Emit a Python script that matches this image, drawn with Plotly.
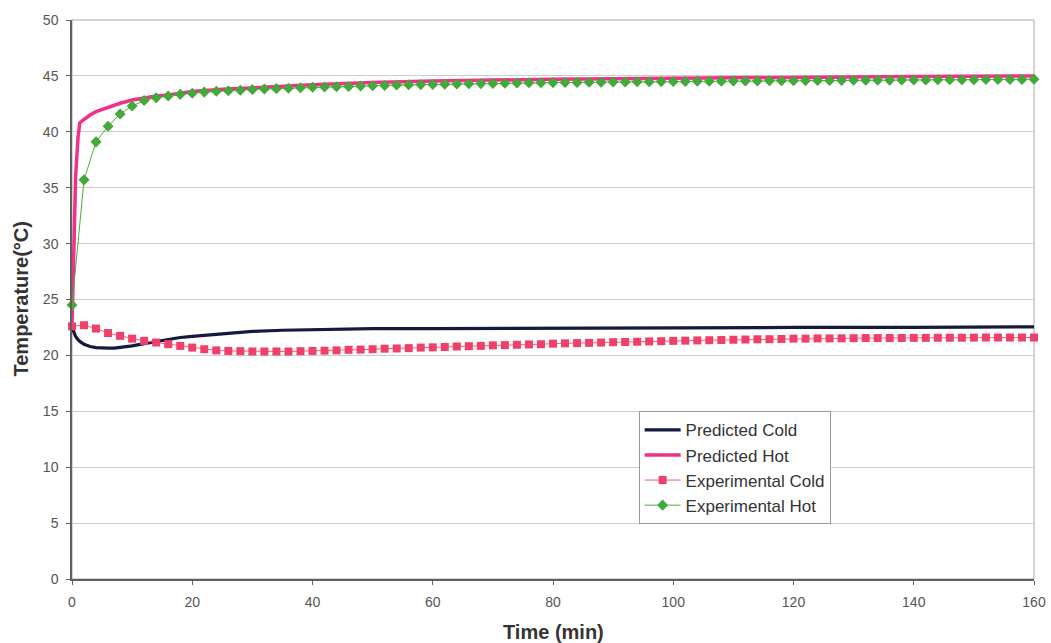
import plotly.graph_objects as go

# Model predictions (minutes, °C)
pred_time = [0, 0.3, 0.6, 1, 1.3, 2, 3, 4, 5, 6, 7, 8, 10, 12, 14, 16, 18, 20, 25, 30, 35, 40, 50, 60,
             80, 100, 120, 140, 160]
pred_cold = [22.5, 22.0, 21.7, 21.4, 21.25, 21.0, 20.8, 20.7, 20.65, 20.65, 20.65, 20.7, 20.85, 21.05,
             21.25, 21.45, 21.6, 21.7, 21.95, 22.15, 22.25, 22.3, 22.4, 22.4, 22.45, 22.45, 22.5, 22.5, 22.55]
pred_hot = [22.6, 30.0, 36.0, 39.5, 40.8, 41.1, 41.5, 41.8, 42.0, 42.2, 42.4, 42.55, 42.85, 43.05,
            43.2, 43.3, 43.45, 43.6, 43.8, 43.95, 44.1, 44.2, 44.4, 44.55, 44.7, 44.8, 44.9, 44.95, 45.0]

# Measurements, sampled every 2 minutes
exp_time = list(range(0, 161, 2))
exp_cold = [22.6, 22.7, 22.4, 22.0, 21.75, 21.5, 21.3, 21.15, 21.0, 20.85,
            20.7, 20.55, 20.45, 20.4, 20.38, 20.35, 20.35, 20.35, 20.35, 20.38,
            20.4, 20.42, 20.45, 20.5, 20.52, 20.55, 20.6, 20.62, 20.65, 20.7,
            20.72, 20.75, 20.8, 20.82, 20.85, 20.9, 20.92, 20.95, 20.98, 21.0,
            21.05, 21.08, 21.1, 21.12, 21.15, 21.18, 21.2, 21.22, 21.25, 21.27,
            21.3, 21.32, 21.34, 21.36, 21.38, 21.4, 21.42, 21.44, 21.45, 21.47,
            21.5, 21.5, 21.52, 21.52, 21.53, 21.54, 21.55, 21.55, 21.55, 21.56,
            21.57, 21.57, 21.58, 21.58, 21.58, 21.59, 21.6, 21.6, 21.6, 21.6, 21.6]
exp_hot = [24.5, 35.7, 39.1, 40.5, 41.6, 42.3, 42.8, 43.05, 43.2, 43.35,
           43.45, 43.55, 43.62, 43.68, 43.72, 43.78, 43.82, 43.86, 43.9, 43.94,
           43.98, 44.0, 44.03, 44.06, 44.09, 44.12, 44.15, 44.18, 44.2, 44.22,
           44.24, 44.26, 44.28, 44.3, 44.31, 44.33, 44.35, 44.36, 44.38, 44.39,
           44.4, 44.41, 44.42, 44.43, 44.44, 44.45, 44.46, 44.47, 44.48, 44.49,
           44.5, 44.51, 44.52, 44.52, 44.53, 44.54, 44.55, 44.55, 44.56, 44.57,
           44.57, 44.58, 44.59, 44.59, 44.6, 44.61, 44.61, 44.62, 44.62, 44.63,
           44.64, 44.64, 44.65, 44.65, 44.66, 44.66, 44.67, 44.67, 44.68, 44.68, 44.7]

x_ticks = [0, 20, 40, 60, 80, 100, 120, 140, 160]
y_ticks = [0, 5, 10, 15, 20, 25, 30, 35, 40, 45, 50]

FONT = "Liberation Sans, Arial, sans-serif"
TITLE_FONT = dict(family=FONT, size=20, color="#333333")

fig = go.Figure()
fig.add_trace(go.Scatter(x=pred_time, y=pred_cold, mode="lines", name="Predicted Cold",
                         line=dict(color="#15183f", width=3.2), legendgroup="a"))
fig.add_trace(go.Scatter(x=pred_time, y=pred_hot, mode="lines", name="Predicted Hot",
                         line=dict(color="#f0308a", width=3.5), legendgroup="b"))
fig.add_trace(go.Scatter(x=exp_time, y=exp_cold, mode="lines+markers", name="Experimental Cold",
                         line=dict(color="#f2607a", width=1),
                         marker=dict(symbol="square", size=8, color="#f0406a"),
                         legendgroup="c", cliponaxis=False))
fig.add_trace(go.Scatter(x=exp_time, y=exp_hot, mode="lines+markers", name="Experimental Hot",
                         line=dict(color="#4caf3a", width=1),
                         marker=dict(symbol="diamond", size=8.5, color="#44a83a"),
                         legendgroup="d", cliponaxis=False))

# plot-area frame on the top and right sides
fig.add_shape(type="rect", xref="paper", yref="paper", x0=0, y0=0, x1=1, y1=1,
              line=dict(color="#a8a8a8", width=1), layer="below")

# axis titles
fig.add_annotation(text="<b>Time (min)</b>", xref="paper", yref="paper", x=0.5, y=0,
                   yshift=-53, xanchor="center", yanchor="middle", showarrow=False, font=TITLE_FONT)
fig.add_annotation(text="<b>Temperature(°C)</b>", xref="paper", yref="paper", x=0, y=0.5,
                   xshift=-52, xanchor="center", yanchor="middle", textangle=-90,
                   showarrow=False, font=TITLE_FONT)

fig.update_layout(
    width=1051, height=643,
    margin=dict(l=72, r=17, t=20, b=64),
    paper_bgcolor="white", plot_bgcolor="white",
    font=dict(family=FONT, color="#555555", size=14),
    showlegend=True,
    legend=dict(x=0.589, y=0.30, xanchor="left", yanchor="top",
                bordercolor="#9a9a9a", borderwidth=1, bgcolor="white",
                font=dict(family=FONT, size=17, color="#333333"),
                tracegroupgap=0, itemwidth=36),
    xaxis=dict(range=[0, 160], tickvals=x_ticks, ticktext=[str(v) for v in x_ticks],
               automargin=False,
               showgrid=False, zeroline=False, showline=True, linecolor="#606060", linewidth=1.5,
               ticks="outside", ticklen=4, tickcolor="#606060", ticklabelstandoff=5,
               tickfont=dict(size=14, color="#555555")),
    yaxis=dict(range=[0, 50], tickvals=y_ticks, ticktext=[str(v) for v in y_ticks],
               automargin=False,
               showgrid=True, gridcolor="#cccccc", gridwidth=1, zeroline=False,
               showline=True, linecolor="#606060", linewidth=1.5,
               ticks="outside", ticklen=4, tickcolor="#606060", ticklabelstandoff=5,
               tickfont=dict(size=14, color="#555555")),
)

fig.write_html("out.html")
